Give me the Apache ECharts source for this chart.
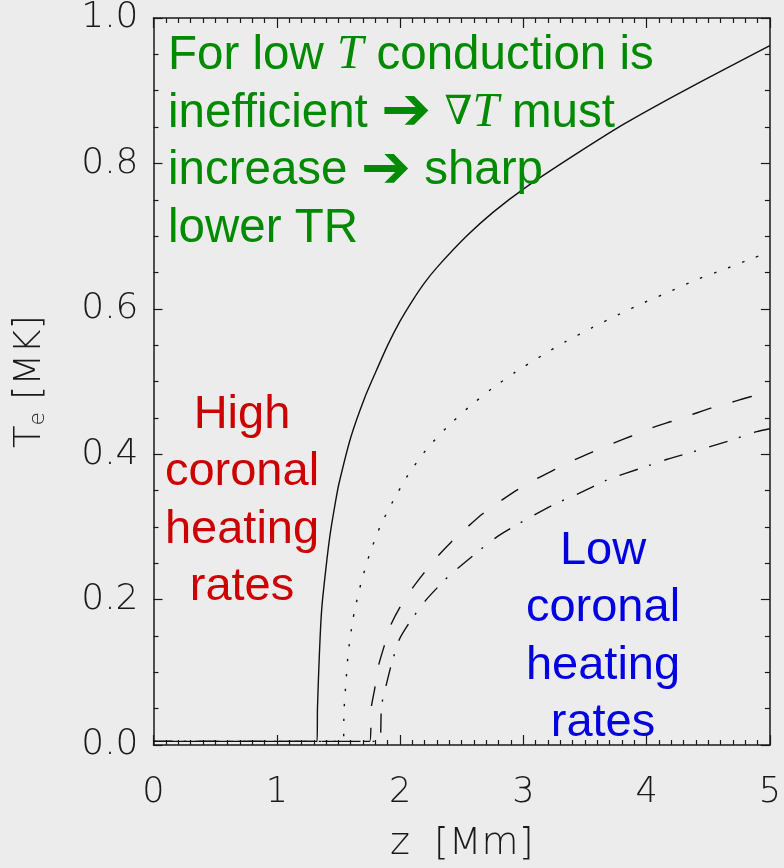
<!DOCTYPE html>
<html>
<head>
<meta charset="utf-8">
<script src="https://cdn.jsdelivr.net/npm/echarts@6/dist/echarts.min.js"></script>
<style>
html,body{margin:0;padding:0;background:#ececec;}
#chart{width:784px;height:868px;}
</style>
</head>
<body>
<div id="chart"></div>
<script>
// ---- data ----
var xTicks = [0, 1, 2, 3, 4, 5];
var yTicks = [0.0, 0.2, 0.4, 0.6, 0.8, 1.0];

var solidZ = [0, 1.327, 1.330, 1.340, 1.352, 1.366, 1.400, 1.433, 1.478, 1.505, 1.600, 1.714, 1.800, 1.900, 2.000, 2.100, 2.200, 2.300, 2.540, 2.756, 3.020, 3.420, 3.825, 4.226, 4.627, 5.0];
var solidT = [0.005, 0.005, 0.050, 0.100, 0.150, 0.190, 0.245, 0.290, 0.336, 0.360, 0.423, 0.478, 0.512, 0.550, 0.583, 0.611, 0.636, 0.657, 0.700, 0.733, 0.767, 0.812, 0.855, 0.893, 0.929, 0.962];

var dottedZ = [0, 1.540, 1.545, 1.561, 1.580, 1.612, 1.634, 1.687, 1.756, 1.842, 1.954, 2.074, 2.221, 2.380, 2.560, 2.743, 2.937, 3.144, 3.344, 3.558, 3.771, 3.986, 4.205, 4.419, 4.641, 4.868, 5.0];
var dottedT = [0.005, 0.005, 0.046, 0.086, 0.127, 0.167, 0.187, 0.225, 0.264, 0.302, 0.339, 0.374, 0.408, 0.437, 0.465, 0.490, 0.513, 0.535, 0.555, 0.574, 0.592, 0.609, 0.625, 0.641, 0.655, 0.670, 0.678];

var dashedZ = [0, 1.754, 1.767, 1.794, 1.825, 1.873, 1.922, 1.994, 2.093, 2.187, 2.302, 2.414, 2.548, 2.670, 2.809, 2.951, 3.103, 3.256, 3.411, 3.558, 3.727, 3.879, 4.039, 4.200, 4.360, 4.515, 4.681, 4.841, 5.0];
var dashedT = [0.005, 0.005, 0.052, 0.077, 0.109, 0.137, 0.164, 0.188, 0.214, 0.235, 0.259, 0.279, 0.300, 0.318, 0.335, 0.351, 0.366, 0.379, 0.392, 0.403, 0.415, 0.425, 0.436, 0.445, 0.454, 0.463, 0.471, 0.479, 0.486];

var dashDotZ = [0, 1.834, 1.847, 1.860, 1.887, 1.927, 1.994, 2.075, 2.208, 2.387, 2.596, 2.783, 3.010, 3.250, 3.451, 3.699, 3.959, 4.167, 4.430, 4.681, 4.894, 5.0];
var dashDotT = [0.005, 0.005, 0.045, 0.064, 0.082, 0.109, 0.145, 0.168, 0.199, 0.231, 0.261, 0.286, 0.309, 0.331, 0.346, 0.366, 0.381, 0.393, 0.406, 0.419, 0.431, 0.435];

function pairs(xs, ys) { return xs.map(function (x, i) { return [x, ys[i]]; }); }

var axisFont = 'DejaVu Sans';
var axisColor = '#1a1a1a';

function xAxisCfg(pos, showLabel) {
  return {
    type: 'value', position: pos, min: xTicks[0], max: xTicks[xTicks.length - 1], interval: 1,
    axisLine: { show: true, onZero: false, lineStyle: { color: axisColor, width: 1.5 } },
    axisTick: { show: true, inside: true, length: 10, lineStyle: { color: axisColor, width: 1.2 } },
    minorTick: { show: true, splitNumber: 10, length: 5, lineStyle: { color: axisColor, width: 1.2 } },
    splitLine: { show: false }, minorSplitLine: { show: false },
    axisLabel: { show: showLabel, margin: 30, color: axisColor, fontFamily: axisFont, fontWeight: 200, fontSize: 35,
      formatter: function (v) { return String(v); } },
    name: showLabel ? 'z  [Mm]' : '', nameLocation: 'middle', nameGap: 80,
    nameTextStyle: { color: axisColor, fontFamily: axisFont, fontWeight: 200, fontSize: 38 }
  };
}
function yAxisCfg(pos, showLabel) {
  return {
    type: 'value', position: pos, min: yTicks[0], max: yTicks[yTicks.length - 1], interval: 0.2,
    axisLine: { show: true, onZero: false, lineStyle: { color: axisColor, width: 1.5 } },
    axisTick: { show: true, inside: true, length: 9, lineStyle: { color: axisColor, width: 1.2 } },
    minorTick: { show: true, splitNumber: 4, length: 5, lineStyle: { color: axisColor, width: 1.2 } },
    splitLine: { show: false }, minorSplitLine: { show: false },
    axisLabel: { show: showLabel, margin: 15, color: axisColor, fontFamily: axisFont, fontWeight: 200, fontSize: 36,
      formatter: function (v) { return v.toFixed(1); } },
    name: showLabel ? 'T{s|e} [MK]' : '', nameLocation: 'middle', nameGap: 104, nameRotate: 90,
    nameTextStyle: { color: axisColor, fontFamily: axisFont, fontWeight: 200, fontSize: 37,
      rich: { s: { fontSize: 22, fontFamily: axisFont, fontWeight: 200, color: axisColor, verticalAlign: 'bottom', padding: [16, 0, 0, 0] } } }
  };
}

function lineSeries(name, data, type) {
  return {
    name: name, type: 'line', data: data, xAxisIndex: 0, yAxisIndex: 0,
    showSymbol: false, symbol: 'none', smooth: 0.2,
    lineStyle: { color: '#111', width: 1.4, type: type }, z: 3
  };
}

var chart = echarts.init(document.getElementById('chart'), null, { renderer: 'canvas' });
var green = '#008a00', red = '#cc0000', blue = '#0000e0';
var txtFont = 'Liberation Sans';
var option = {
  backgroundColor: '#ececec',
  animation: false,
  grid: { left: 153.5, right: 7.3, top: 12.5, bottom: 118, containLabel: false },
  xAxis: [xAxisCfg('bottom', true), xAxisCfg('top', false)],
  yAxis: [yAxisCfg('left', true), yAxisCfg('right', false)],
  series: [
    lineSeries('dashdot', pairs(dashDotZ, dashDotT), [19, 12, 2, 14]),
    lineSeries('dashed', pairs(dashedZ, dashedT), [20, 22]),
    lineSeries('dotted', pairs(dottedZ, dottedT), [2.5, 12.5]),
    lineSeries('solid', pairs(solidZ, solidT), 'solid')
  ],
  graphic: [
    {
      type: 'text', left: 168, top: 27, z: 10,
      style: {
        text: 'For low {i|T} conduction is\ninefficient {a|➔} {n|∇}{i|T} must\nincrease {a|➔} sharp\nlower TR',
        fill: green, fontFamily: txtFont, fontSize: 47.5, lineHeight: 57.7,
        rich: {
          i: { fontFamily: 'Liberation Serif', fontStyle: 'italic', fontSize: 47.5, fill: green, color: green, lineHeight: 57.7 },
          n: { fontFamily: 'DejaVu Serif', fontWeight: 200, fontSize: 40, fill: green, color: green, lineHeight: 57.7 },
          a: { fontFamily: 'DejaVu Sans', fontSize: 60, fill: green, color: green, lineHeight: 57.7 }
        }
      }
    },
    {
      type: 'text', x: 242, y: 501, z: 10,
      style: {
        text: 'High\ncoronal\nheating\nrates', fill: red, fontFamily: txtFont, fontSize: 47,
        lineHeight: 57.5, align: 'center', verticalAlign: 'middle', textAlign: 'center', textVerticalAlign: 'middle'
      }
    },
    {
      type: 'text', x: 603, y: 637, z: 10,
      style: {
        text: 'Low\ncoronal\nheating\nrates', fill: blue, fontFamily: txtFont, fontSize: 47,
        lineHeight: 57.5, align: 'center', verticalAlign: 'middle', textAlign: 'center', textVerticalAlign: 'middle'
      }
    }
  ]
};
chart.setOption(option);
</script>
</body>
</html>
